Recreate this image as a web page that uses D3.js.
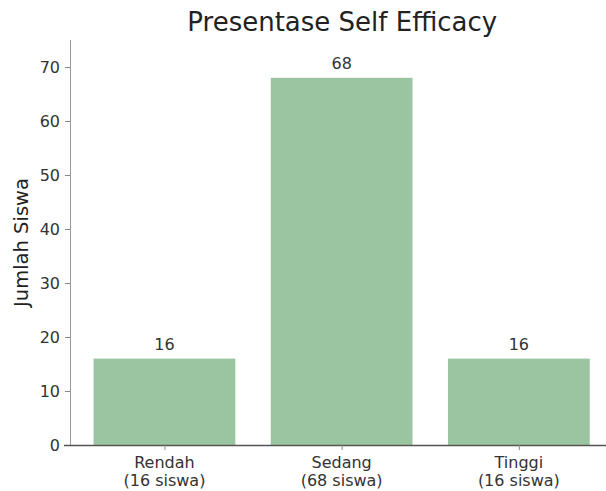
<!DOCTYPE html>
<html><head><meta charset="utf-8">
<script src="https://cdn.jsdelivr.net/npm/d3@7"></script>
<style>body{margin:0;background:#fff;} text{font-family:"DejaVu Sans",sans-serif;}</style>
</head><body>
<svg id="c" width="606" height="491"></svg>
<script>
const categories = ["Rendah", "Sedang", "Tinggi"];
const tickLines = [["Rendah","(16 siswa)"],["Sedang","(68 siswa)"],["Tinggi","(16 siswa)"]];
const values = [16, 68, 16];
const yTicks = [0,10,20,30,40,50,60,70];
const titleText = "Presentase Self Efficacy";
const yLabel = "Jumlah Siswa";

const svg = d3.select("#c");
const mLeft = 70, mTop = 40, mBottom = 445;
const x = d3.scaleLinear().domain([-0.533, 2.54]).range([mLeft, mLeft + 3.073*177.2]);
const y = d3.scaleLinear().domain([0, 75]).range([mBottom, mTop]);
const barW = 0.8;

svg.selectAll("rect.bar").data(values).join("rect")
  .attr("class","bar")
  .attr("x",(d,i)=>x(i-barW/2)).attr("width",(d,i)=>x(i+barW/2)-x(i-barW/2))
  .attr("y",d=>y(d)).attr("height",d=>y(0)-y(d))
  .attr("fill","#9bc4a1");

svg.selectAll("text.val").data(values).join("text")
  .attr("class","val").attr("x",(d,i)=>x(i)).attr("y",d=>y(d)-9)
  .attr("text-anchor","middle").attr("font-size",16).attr("fill","#333").text(d=>d);

// y axis
const ya = svg.append("g").attr("transform",`translate(${mLeft},0)`)
  .call(d3.axisLeft(y).tickValues(yTicks).tickSize(5).tickPadding(5));
ya.select(".domain").attr("stroke","#999").attr("d",`M0.5,${y(0)}V${mTop}`);
ya.selectAll(".tick line").attr("stroke","#888");
ya.selectAll(".tick text").attr("font-size",16).attr("fill","#333").style("font-family","DejaVu Sans");

// x axis
const xa = svg.append("g").attr("transform",`translate(0,${mBottom})`)
  .call(d3.axisBottom(x).tickValues([0,1,2]).tickSize(5).tickFormat(""));
xa.select(".domain").attr("stroke","#555").attr("stroke-width",1.6).attr("d",`M${mLeft-6},0.5H606`);
xa.selectAll(".tick line").attr("stroke","#888");
const xl = svg.selectAll("text.xl").data(tickLines).join("text").attr("class","xl")
  .attr("text-anchor","middle").attr("font-size",16).attr("fill","#333")
  .attr("x",(d,i)=>x(i)).attr("y",mBottom+23);
xl.selectAll("tspan").data(d=>d).join("tspan")
  .attr("x",function(){return d3.select(this.parentNode).attr("x");})
  .attr("dy",(d,j)=>j?18:0).text(d=>d);

svg.append("text").attr("x",(x.range()[0]+x.range()[1])/2).attr("y",31)
  .attr("text-anchor","middle").attr("font-size",26).attr("fill","#222").text(titleText);
svg.append("text").attr("transform",`translate(28,${(mTop+mBottom)/2}) rotate(-90)`)
  .attr("text-anchor","middle").attr("font-size",19.5).attr("fill","#222").text(yLabel);
</script></body></html>
